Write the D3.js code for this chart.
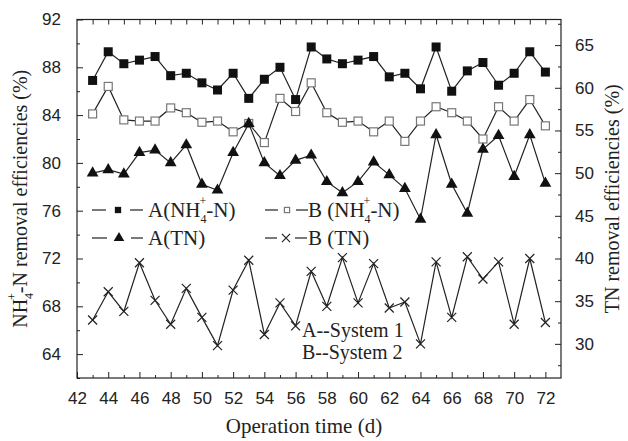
<!DOCTYPE html>
<html>
<head>
<meta charset="utf-8">
<script src="https://cdn.jsdelivr.net/npm/d3@7"></script>
<style>
  body { margin: 0; background: #fff; }
  svg { display: block; }
  .tick text { font-family: "Liberation Sans", Arial, sans-serif; font-size: 17px; fill: #222; }
  .domain { display: none; }
  .tick line { stroke: #222; stroke-width: 1; }
</style>
</head>
<body>
<svg></svg>
<script>
// operation days
const days = [43, 44, 45, 46, 47, 48, 49, 50, 51, 52, 53, 54, 55, 56, 57,
              58, 59, 60, 61, 62, 63, 64, 65, 66, 67, 68, 69, 70, 71, 72];

// NH4+-N removal (left axis)
const nh4A = [86.9, 89.3, 88.3, 88.6, 88.9, 87.3, 87.5, 86.7, 86.1, 87.5, 85.4, 87.0, 88.0, 85.3, 89.7,
              88.7, 88.3, 88.6, 88.9, 87.2, 87.5, 86.2, 89.7, 86.0, 87.7, 88.4, 86.5, 87.5, 89.3, 87.6];
const nh4B = [84.1, 86.4, 83.6, 83.5, 83.5, 84.6, 84.2, 83.4, 83.5, 82.6, 83.3, 81.7, 85.4, 84.3, 86.7,
              84.2, 83.4, 83.5, 82.6, 83.5, 81.8, 83.5, 84.7, 84.2, 83.5, 82.0, 84.7, 83.5, 85.3, 83.1];

// TN removal (right axis)
const tnA = [50.0, 50.4, 49.9, 52.4, 52.7, 51.2, 53.3, 48.7, 48.0, 52.4, 55.8, 51.2, 49.7, 51.5, 52.1,
             49.0, 47.7, 49.0, 51.3, 49.8, 48.2, 44.6, 54.5, 48.7, 45.3, 52.8, 54.4, 49.6, 54.5, 48.8];
const tnB = [32.8, 36.1, 33.8, 39.5, 35.1, 32.3, 36.5, 33.1, 29.8, 36.3, 39.8, 31.1, 34.8, 32.1, 38.5,
             34.4, 40.1, 34.8, 39.4, 34.2, 34.9, 30.0, 39.6, 33.1, 40.2, 37.6, 39.6, 32.3, 40.0, 32.5];

const xTicks = [42, 44, 46, 48, 50, 52, 54, 56, 58, 60, 62, 64, 66, 68, 70, 72];
const leftTicks = [64, 68, 72, 76, 80, 84, 88, 92];
const rightTicks = [30, 35, 40, 45, 50, 55, 60, 65];

const width = 628, height = 441;
const margin = {left: 77, right: 67, top: 19.5, bottom: 63};
const innerW = width - margin.left - margin.right;
const innerH = height - margin.top - margin.bottom;

const serif = '"Liberation Serif", "Times New Roman", serif';

const svg = d3.select('svg').attr('width', width).attr('height', height);
const g = svg.append('g').attr('transform', 'translate(' + margin.left + ',' + margin.top + ')');

const x = d3.scaleLinear().domain([42, 73]).range([0, innerW]);
const yL = d3.scaleLinear().domain([62, 92]).range([innerH, 0]);
const yR = d3.scaleLinear().domain([26, 68]).range([innerH, 0]);

// axes, ticks inward
g.append('g').attr('transform', 'translate(0,' + innerH + ')')
  .call(d3.axisBottom(x).tickValues(xTicks).tickSize(-6).tickPadding(14).tickFormat(d3.format('d')));
g.append('g').attr('transform', 'translate(0,' + innerH + ')')
  .call(d3.axisBottom(x).tickValues(d3.range(43, 73, 2)).tickSize(-3).tickFormat(''));
g.append('g')
  .call(d3.axisTop(x).tickValues(d3.range(43, 73)).tickSize(-5).tickFormat(''));

g.append('g')
  .call(d3.axisLeft(yL).tickValues(leftTicks).tickSize(-6).tickPadding(16));
g.append('g')
  .call(d3.axisLeft(yL).tickValues(d3.range(62, 92, 4)).tickSize(-3).tickFormat(''));

g.append('g').attr('transform', 'translate(' + innerW + ',0)')
  .call(d3.axisRight(yR).tickValues(rightTicks).tickSize(-6).tickPadding(14));
g.append('g').attr('transform', 'translate(' + innerW + ',0)')
  .call(d3.axisRight(yR).tickValues([27.5, 32.5, 37.5, 42.5, 47.5, 52.5, 57.5, 62.5, 67.5]).tickSize(-3).tickFormat(''));

g.append('rect')
  .attr('width', innerW).attr('height', innerH)
  .attr('fill', 'none').attr('stroke', '#222').attr('stroke-width', 1.2);

// series
const series = [
  {name: 'nh4A', values: nh4A, y: yL, marker: 'filledSquare'},
  {name: 'nh4B', values: nh4B, y: yL, marker: 'openSquare'},
  {name: 'tnA', values: tnA, y: yR, marker: 'triangle'},
  {name: 'tnB', values: tnB, y: yR, marker: 'cross'}
];

function drawMarker(sel, type, k) {
  if (type === 'filledSquare') {
    const s = 9 * k;
    sel.append('rect').attr('x', -s / 2).attr('y', -s / 2).attr('width', s).attr('height', s).attr('fill', '#111');
  } else if (type === 'openSquare') {
    const s = 8 * k;
    sel.append('rect').attr('x', -s / 2).attr('y', -s / 2).attr('width', s).attr('height', s)
      .attr('fill', '#fff').attr('stroke', '#777').attr('stroke-width', 1.2);
  } else if (type === 'triangle') {
    sel.append('path').attr('d', d3.symbol(d3.symbolTriangle, 60 * k * k)()).attr('fill', '#111');
  } else {
    const s = 4.5 * k;
    sel.append('path').attr('d', 'M' + -s + ',' + -s + 'L' + s + ',' + s + 'M' + -s + ',' + s + 'L' + s + ',' + -s)
      .attr('stroke', '#222').attr('stroke-width', 1.2).attr('fill', 'none');
  }
}

series.forEach(s => {
  const line = d3.line().x((d, i) => x(days[i])).y(d => s.y(d));
  g.append('path').datum(s.values)
    .attr('fill', 'none').attr('stroke', '#222').attr('stroke-width', 1.2)
    .attr('d', line);
  g.selectAll('.m-' + s.name).data(s.values).enter().append('g')
    .attr('class', 'm-' + s.name)
    .attr('transform', (d, i) => 'translate(' + x(days[i]) + ',' + s.y(d) + ')')
    .each(function() { drawMarker(d3.select(this), s.marker, 1); });
});

// legend: dash, marker, dash, label
const legend = [
  {x1: 92, x2: 143, mx: 118, gap: 12, y: 210, tx: 148, marker: 'filledSquare', k: 0.7, label: 'A', nh: true},
  {x1: 265, x2: 308, mx: 287, gap: 9, y: 210, tx: 308, marker: 'openSquare', k: 0.65, label: 'B ', nh: true},
  {x1: 92, x2: 143, mx: 119, gap: 12, y: 238, tx: 148, marker: 'triangle', k: 0.9, label: 'A(TN)', nh: false},
  {x1: 265, x2: 307, mx: 286, gap: 9, y: 238, tx: 308, marker: 'cross', k: 0.9, label: 'B (TN)', nh: false}
];
legend.forEach(l => {
  svg.append('line').attr('x1', l.x1).attr('x2', l.mx - l.gap).attr('y1', l.y).attr('y2', l.y)
    .attr('stroke', '#222').attr('stroke-width', 1.2);
  svg.append('line').attr('x1', l.mx + l.gap).attr('x2', l.x2).attr('y1', l.y).attr('y2', l.y)
    .attr('stroke', '#222').attr('stroke-width', 1.2);
  drawMarker(svg.append('g').attr('transform', 'translate(' + l.mx + ',' + l.y + ')'), l.marker, l.k);
  const t = svg.append('text').attr('x', l.tx).attr('y', l.y + 7)
    .attr('font-family', serif).attr('font-size', 21).attr('fill', '#222');
  if (l.nh) {
    t.append('tspan').text(l.label + '(NH');
    t.append('tspan').attr('dy', 6).attr('font-size', 12).text('4');
    t.append('tspan').attr('dx', -7).attr('dy', -18).attr('font-size', 12).text('+');
    t.append('tspan').attr('dy', 12).text('-N)');
  } else {
    t.text(l.label);
  }
});

// system notes
svg.append('text').attr('x', 302).attr('y', 337)
  .attr('font-family', serif).attr('font-size', 20).attr('fill', '#222').text('A--System 1');
svg.append('text').attr('x', 302).attr('y', 359)
  .attr('font-family', serif).attr('font-size', 20).attr('fill', '#222').text('B--System 2');

// axis titles
svg.append('text')
  .attr('x', 304).attr('y', 433)
  .attr('text-anchor', 'middle')
  .attr('font-family', serif).attr('font-size', 21).attr('fill', '#222')
  .text('Operation time (d)');

const lt = svg.append('text')
  .attr('transform', 'translate(27,' + (margin.top + innerH / 2) + ') rotate(-90)')
  .attr('text-anchor', 'middle')
  .attr('font-family', serif).attr('font-size', 20).attr('fill', '#222');
lt.append('tspan').text('NH');
lt.append('tspan').attr('dy', 6).attr('font-size', 12).text('4');
lt.append('tspan').attr('dx', -7).attr('dy', -17).attr('font-size', 12).text('+');
lt.append('tspan').attr('dy', 11).text('-N removal efficiencies (%)');

svg.append('text')
  .attr('transform', 'translate(619,' + (margin.top + innerH / 2) + ') rotate(-90)')
  .attr('text-anchor', 'middle')
  .attr('font-family', serif).attr('font-size', 20).attr('fill', '#222')
  .text('TN removal efficiencies (%)');
</script>
</body>
</html>
